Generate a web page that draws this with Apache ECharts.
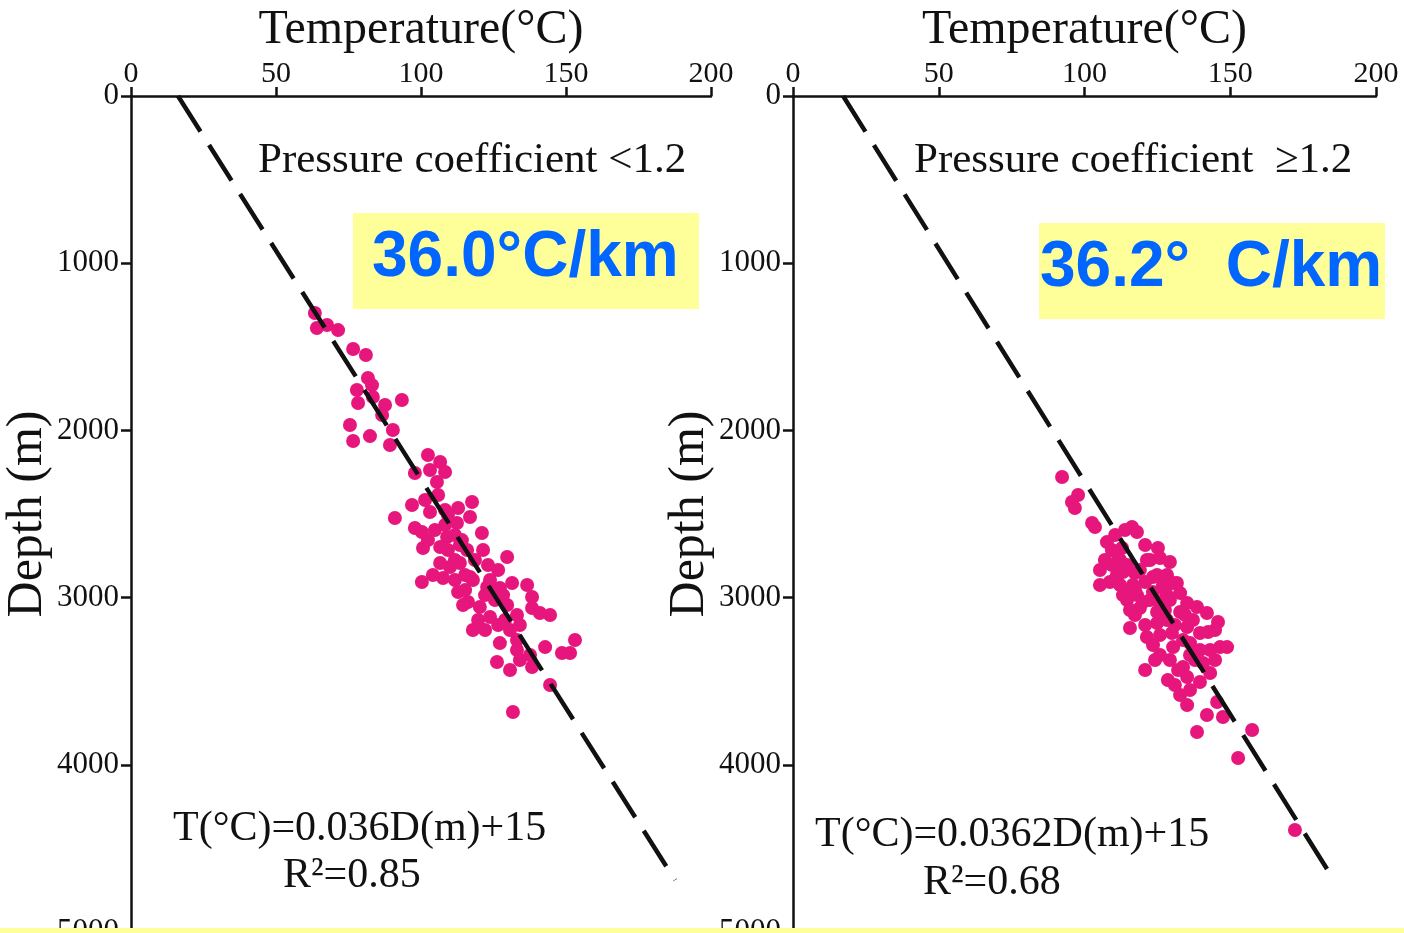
<!DOCTYPE html>
<html>
<head>
<meta charset="utf-8">
<script src="https://cdn.jsdelivr.net/npm/echarts@6/dist/echarts.min.js"></script>
<style>
html,body{margin:0;padding:0;background:#fff;}
#c{width:1404px;height:933px;}
</style>
</head>
<body>
<div id="c"></div>
<script>
// ---- data ----
var tempTicks = [0, 50, 100, 150, 200];
var depthTicks = [0, 1000, 2000, 3000, 4000, 5000];

// Left panel: pressure coefficient < 1.2  [temperature °C, depth m]
var leftPoints = [
[63.4,1298],[64.1,1388],[67.6,1370],[71.4,1400],[76.6,1513],[81.0,1549],[81.7,1687],[83.1,1729],
[77.9,1758],[83.4,1800],[78.3,1836],[87.6,1848],[93.4,1818],[86.6,1908],[75.5,1968],[90.3,1998],
[82.4,2034],[76.6,2063],[89.3,2087],[102.4,2147],[106.6,2189],[108.3,2249],[97.9,2255],[103.1,2237],
[105.5,2309],[101.4,2416],[96.9,2446],[103.1,2488],[108.3,2476],[112.8,2464],[117.6,2428],[116.9,2518],
[91.0,2524],[108.3,2566],[112.4,2554],[97.9,2584],[100.3,2608],[121.0,2614],[102.4,2656],[109.0,2638],
[114.1,2656],[109.3,2715],[115.9,2715],[121.4,2715],[100.7,2703],[106.6,2697],[110.0,2817],[129.7,2757],
[123.1,2805],[126.6,2835],[107.6,2883],[112.8,2967],[117.9,2895],[122.8,2937],[127.2,2943],[131.4,2913],
[136.6,2925],[138.3,2996],[116.2,3026],[120.3,3056],[123.8,3116],[129.7,3044],[133.1,3104],[138.3,3062],
[141.0,3092],[144.5,3104],[117.9,3194],[126.6,3164],[130.7,3194],[127.2,3272],[133.1,3254],[142.8,3296],
[153.1,3254],[148.6,3331],[151.4,3331],[126.2,3385],[130.7,3433],[133.1,3313],[138.3,3415],[144.5,3523],
[131.7,3684],[106.6,2793],[113.4,2793],[104.1,2865],[100.3,2907],[116.9,2877],[111.7,2895],[114.5,3044],
[137.6,3343],[134.1,3373],[129.0,3134],[111.7,2626],[105.9,2386],[115.2,2865],[122.1,2985],[125.5,3014],
[119.7,3134],[111.7,2775],[115.2,2955],[118.6,2775],[123.8,2895],[109.3,2506],[104.8,2596],[128.3,2985],
[134.1,3164],[122.1,3194],[113.4,2685]
];

// Right panel: pressure coefficient >= 1.2  [temperature °C, depth m]
var rightPoints = [
[92.3,2279],[97.8,2386],[95.7,2428],[96.7,2464],[102.6,2554],[103.6,2578],[113.9,2596],[116.3,2578],
[118.0,2608],[107.7,2668],[109.4,2715],[112.9,2703],[125.2,2703],[125.9,2763],[129.3,2787],[105.3,2835],
[109.4,2805],[113.2,2847],[117.3,2853],[124.9,2865],[128.3,2865],[108.7,2907],[112.2,2925],[116.6,2925],
[120.8,2907],[126.9,2925],[130.4,2913],[113.2,2985],[118.0,2985],[123.5,2967],[128.3,2985],[132.8,2973],
[135.2,3032],[120.1,3026],[125.9,3026],[114.6,3014],[119.0,3062],[129.3,3014],[138.6,3056],[142.0,3092],
[145.8,3146],[115.6,3182],[121.4,3236],[124.9,3152],[130.0,3212],[135.2,3176],[139.6,3212],[142.4,3206],
[123.5,3284],[130.4,3296],[136.2,3272],[143.1,3313],[146.5,3296],[129.3,3373],[133.8,3415],[144.8,3373],
[120.8,3433],[128.6,3493],[135.2,3475],[139.6,3505],[132.1,3433],[137.9,3373],[143.1,3451],[140.7,3391],
[135.2,3643],[145.5,3624],[142.0,3702],[147.5,3714],[138.6,3804],[157.5,3792],[152.7,3959],[172.2,4390],
[111.1,2733],[114.6,2805],[119.0,2835],[123.5,2877],[131.7,2913],[132.8,3086],[124.9,3086],[137.2,3134],
[117.3,3104],[133.8,3254],[148.9,3296],[128.3,3134],[122.5,2775],[107.0,2775],[115.6,3074],[144.8,3194],
[136.2,3553],[125.9,3343],[120.8,2685],[110.5,2626],[112.2,2775],[117.3,2955],[122.5,3014],[127.6,3074],
[131.0,3164],[125.9,3224],[136.2,3343],[131.0,3523],[120.8,3164],[115.6,2955],[121.4,2775],[105.3,2925],
[134.5,3104],[127.6,2955],[139.6,3313],[132.8,3583],[124.2,3373],[111.1,2865]
];

// Dashed trend lines: [temperature, depth]
var leftTrend = [[16.2, 0], [187.6, 4690]];
var rightTrend = [[17.2, 0], [184.9, 4671]];

var leftLabels = {panel: 'Pressure coefficient <1.2', rate: '36.0°C/km', eq: 'T(°C)=0.036D(m)+15', r2: 'R²=0.85'};
var rightLabels = {panel: 'Pressure coefficient  ≥1.2', rate: '36.2°  C/km', eq: 'T(°C)=0.0362D(m)+15', r2: 'R²=0.68'};

// ---- chart ----
var SERIF = '"Liberation Serif", "Times New Roman", serif';
var SANS = '"Liberation Sans", Arial, sans-serif';
var PINK = '#E6167C';

function xAx(gi) {
  return {
    gridIndex: gi, type: 'value', position: 'top', min: 0, max: 200, interval: 50,
    name: 'Temperature(°C)', nameLocation: 'middle', nameGap: 40,
    nameTextStyle: {fontFamily: SERIF, fontSize: 48, color: '#111'},
    axisLine: {show: true, onZero: false, lineStyle: {color: '#111', width: 2.5}},
    axisTick: {show: true, inside: false, length: 9, lineStyle: {color: '#111', width: 2.5}},
    axisLabel: {fontFamily: SERIF, fontSize: 30, color: '#111', margin: 7,
      formatter: function (v) { return tempTicks.indexOf(v) >= 0 ? String(v) : ''; }},
    splitLine: {show: false}
  };
}
function yAx(gi) {
  return {
    gridIndex: gi, type: 'value', inverse: true, min: 0, max: 5000, interval: 1000,
    name: 'Depth (m)', nameLocation: 'middle', nameGap: 68, nameRotate: 90,
    nameTextStyle: {fontFamily: SERIF, fontSize: 50, color: '#111'},
    axisLine: {show: true, onZero: false, lineStyle: {color: '#111', width: 2.5}},
    axisTick: {show: true, inside: false, length: 10, lineStyle: {color: '#111', width: 2.5}},
    axisLabel: {fontFamily: SERIF, fontSize: 31, color: '#111', margin: 12,
      formatter: function (v) { return depthTicks.indexOf(v) >= 0 ? String(v) : ''; }},
    splitLine: {show: false}
  };
}

var chart = echarts.init(document.getElementById('c'), null, {renderer: 'canvas'});
var option = {
  backgroundColor: '#ffffff',
  animation: false,
  grid: [
    {left: 131, top: 96, width: 580, height: 836, containLabel: false, outerBoundsMode: 'none'},
    {left: 793, top: 96, width: 583, height: 836, containLabel: false, outerBoundsMode: 'none'}
  ],
  xAxis: [xAx(0), xAx(1)],
  yAxis: [yAx(0), yAx(1)],
  series: [
    {type: 'scatter', xAxisIndex: 0, yAxisIndex: 0, data: leftPoints, symbolSize: 14,
      itemStyle: {color: PINK, opacity: 1}, z: 3},
    {type: 'line', xAxisIndex: 0, yAxisIndex: 0, data: leftTrend, symbol: 'none',
      lineStyle: {color: '#111', width: 4.5, type: [42, 16]}, z: 4},
    {type: 'scatter', xAxisIndex: 1, yAxisIndex: 1, data: rightPoints, symbolSize: 14,
      itemStyle: {color: PINK, opacity: 1}, z: 3},
    {type: 'line', xAxisIndex: 1, yAxisIndex: 1, data: rightTrend, symbol: 'none',
      lineStyle: {color: '#111', width: 4.5, type: [42, 16]}, z: 4}
  ],
  graphic: [
    {type: 'text', left: 258, top: 139, style: {text: leftLabels.panel, font: '43px ' + SERIF, fill: '#111'}},
    {type: 'text', left: 914, top: 139, style: {text: rightLabels.panel, font: '43px ' + SERIF, fill: '#111'}},
    {type: 'rect', left: 353, top: 213, shape: {width: 346, height: 96}, style: {fill: '#FFFF99'}},
    {type: 'text', left: 372, top: 226, style: {text: leftLabels.rate, font: 'bold 64px ' + SANS, fill: '#0066FF'}},
    {type: 'rect', left: 1039, top: 223, shape: {width: 346, height: 96}, style: {fill: '#FFFF99'}},
    {type: 'text', left: 1040, top: 236, style: {text: rightLabels.rate, font: 'bold 64px ' + SANS, fill: '#0066FF'}},
    {type: 'text', left: 173, top: 808, style: {text: leftLabels.eq, font: '42px ' + SERIF, fill: '#111'}},
    {type: 'text', left: 283, top: 855, style: {text: leftLabels.r2, font: '42px ' + SERIF, fill: '#111'}},
    {type: 'text', left: 815, top: 814, style: {text: rightLabels.eq, font: '42px ' + SERIF, fill: '#111'}},
    {type: 'text', left: 923, top: 862, style: {text: rightLabels.r2, font: '42px ' + SERIF, fill: '#111'}},
    {type: 'rect', left: 0, top: 928, shape: {width: 1404, height: 6}, style: {fill: '#FFFF99'}, z: 100}
  ]
};
chart.setOption(option);
</script>
</body>
</html>
